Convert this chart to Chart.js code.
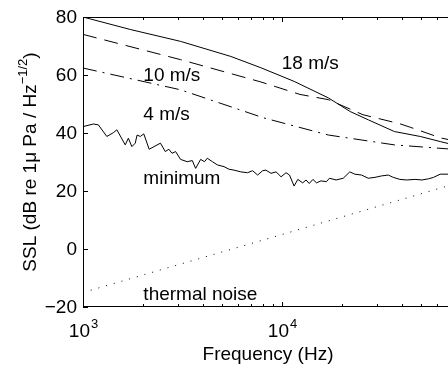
<!DOCTYPE html>
<html>
<head>
<meta charset="utf-8">
<script src="https://cdn.jsdelivr.net/npm/chart.js@4.4.1/dist/chart.umd.min.js"></script>
<style>
  html, body { margin: 0; padding: 0; background: #fff; }
  canvas { display: block; }
</style>
</head>
<body>
<canvas id="sslChart" width="448" height="369"></canvas>
<script>
// values: frequency (Hz) and level (dB)
const freq18 = [1000, 1727, 3090, 5530, 7830, 11500, 17100, 22000, 27200, 36700, 49500, 62700, 70000];
const ssl18 = [80, 75.7, 71.6, 66.4, 62.5, 57.8, 52.1, 47.4, 44.5, 40.5, 38.8, 37, 36.2];

const freq10 = [1000, 3090, 7830, 12300, 17100, 25500, 39000, 44000, 62700, 70000];
const ssl10 = [74, 65.3, 57.6, 53.3, 51.5, 46.3, 43.2, 42, 38.3, 37.6];

const freq4 = [1000, 3090, 8100, 17100, 36700, 68700, 70000];
const ssl4 = [62.4, 54.9, 45.2, 39.3, 35.9, 34.5, 34.4];

const freqMin = [1000, 1127, 1195, 1317, 1420, 1480, 1630, 1690, 1760, 1830, 1870, 1940, 2020, 2150, 2450, 2590,
  2700, 2800, 2920, 3090, 3340, 3540, 3680, 3900, 4080, 4210, 4470, 4730, 5110, 5420, 5740, 6210, 6710, 7110,
  7540, 7990, 8300, 8800, 9330, 9890, 10480, 10900, 11500, 12000, 12700, 13200, 13700, 14300, 14900, 15700,
  16700, 17300, 18700, 20300, 21900, 23200, 25100, 27100, 29300, 31600, 34200, 36200, 39100, 42300, 46600,
  50400, 54400, 57700, 62300, 70000];
const sslMin = [42.2, 43.1, 42.8, 38.8, 40.1, 41.1, 35.9, 38.2, 35.3, 36.5, 39.3, 38.8, 39.7, 34.4, 36.5, 33.6,
  34.4, 33.0, 33.6, 30.9, 30.1, 30.5, 27.8, 30.9, 30.1, 31.3, 30.1, 29.0, 28.4, 27.5, 27.2, 26.6, 26.3, 27.0,
  25.5, 27.0, 27.2, 26.1, 26.6, 24.9, 26.3, 25.5, 21.7, 24.0, 22.8, 23.8, 22.6, 24.0, 22.8, 23.5,
  23.2, 24.4, 23.8, 24.4, 26.6, 25.8, 25.5, 24.4, 24.7, 25.2, 25.5, 24.7, 24.0, 23.8, 24.0,
  23.8, 24.2, 24.7, 25.8, 25.8];

const freqThermal = [1000, 10000, 70000];
const sslThermal = [-15, 5, 22];

const yTicks = [-20, 0, 20, 40, 60, 80];
const xMajor = [1000, 10000];
const xMajorExp = ['3', '4'];
const xMinor = [2000, 3000, 4000, 5000, 6000, 7000, 8000, 9000, 20000, 30000, 40000, 50000, 60000];

const labelTexts = ['18 m/s', '10 m/s', '4 m/s', 'minimum', 'thermal noise'];
const labelFreqs = [9970, 2010, 2010, 2010, 2010];
const labelLevels = [62.1, 57.8, 44.5, 22.4, -17.5];

function pts(xs, ys) {
  return xs.map((f, i) => ({ x: f, y: ys[i] }));
}

const FONT = "'Liberation Sans', Arial, Helvetica, sans-serif";

const frameAndText = {
  id: 'frameAndText',
  afterDatasetsDraw(chart) {
    const { ctx, chartArea: a, scales: { x, y } } = chart;
    ctx.save();
    ctx.strokeStyle = '#000';
    ctx.fillStyle = '#000';
    ctx.lineWidth = 1;

    // box, right side runs off the picture
    ctx.beginPath();
    ctx.moveTo(a.right, a.top + 0.5);
    ctx.lineTo(a.left + 0.5, a.top + 0.5);
    ctx.lineTo(a.left + 0.5, a.bottom - 0.5);
    ctx.lineTo(a.right, a.bottom - 0.5);
    ctx.stroke();

    // inward ticks
    ctx.beginPath();
    yTicks.forEach(v => {
      const py = Math.round(y.getPixelForValue(v)) + 0.5;
      ctx.moveTo(a.left, py);
      ctx.lineTo(a.left + 5, py);
    });
    xMajor.forEach(v => {
      const px = Math.round(x.getPixelForValue(v)) + 0.5;
      ctx.moveTo(px, a.bottom); ctx.lineTo(px, a.bottom - 5);
      ctx.moveTo(px, a.top); ctx.lineTo(px, a.top + 5);
    });
    xMinor.forEach(v => {
      const px = Math.round(x.getPixelForValue(v)) + 0.5;
      ctx.moveTo(px, a.bottom); ctx.lineTo(px, a.bottom - 3);
      ctx.moveTo(px, a.top); ctx.lineTo(px, a.top + 3);
    });
    ctx.stroke();

    // y tick labels
    ctx.font = '19px ' + FONT;
    ctx.textAlign = 'right';
    ctx.textBaseline = 'middle';
    yTicks.forEach(v => {
      const txt = v < 0 ? '\u2212' + Math.abs(v) : String(v);
      ctx.fillText(txt, a.left - 6, y.getPixelForValue(v) + 1);
    });

    // x tick labels 10^n
    ctx.textAlign = 'left';
    ctx.textBaseline = 'alphabetic';
    xMajor.forEach((v, i) => {
      ctx.font = '19px ' + FONT;
      const wBase = ctx.measureText('10').width;
      ctx.font = '13px ' + FONT;
      const wExp = ctx.measureText(xMajorExp[i]).width;
      const x0 = x.getPixelForValue(v) - (wBase + wExp) / 2;
      ctx.font = '19px ' + FONT;
      ctx.fillText('10', x0, a.bottom + 30);
      ctx.font = '13px ' + FONT;
      ctx.fillText(xMajorExp[i], x0 + wBase + 1, a.bottom + 21);
    });

    // x title
    ctx.font = '19px ' + FONT;
    ctx.textAlign = 'center';
    ctx.fillText('Frequency (Hz)', 268, 360);

    // y title with superscript, rotated
    const main = 'SSL (dB re 1\u03bc Pa / Hz';
    const sup = '\u22121/2';
    const tail = ')';
    ctx.font = '19px ' + FONT;
    const w1 = ctx.measureText(main).width;
    const w3 = ctx.measureText(tail).width;
    ctx.font = '13px ' + FONT;
    const w2 = ctx.measureText(sup).width;
    const total = w1 + w2 + w3;
    ctx.translate(36, (a.top + a.bottom) / 2);
    ctx.rotate(-Math.PI / 2);
    ctx.textAlign = 'left';
    let cx = -total / 2;
    ctx.font = '19px ' + FONT;
    ctx.fillText(main, cx, 0);
    cx += w1;
    ctx.font = '13px ' + FONT;
    ctx.fillText(sup, cx, -9);
    cx += w2;
    ctx.font = '19px ' + FONT;
    ctx.fillText(tail, cx, 0);
    ctx.setTransform(1, 0, 0, 1, 0, 0);

    // curve labels
    ctx.font = '19px ' + FONT;
    ctx.textAlign = 'left';
    ctx.textBaseline = 'alphabetic';
    labelTexts.forEach((t, i) => {
      ctx.fillText(t, x.getPixelForValue(labelFreqs[i]), y.getPixelForValue(labelLevels[i]));
    });
    ctx.restore();
  }
};

const line = (data, dash) => ({
  data: data,
  borderColor: '#000',
  borderWidth: 1,
  borderDash: dash,
  pointRadius: 0,
  tension: 0,
  fill: false
});

new Chart(document.getElementById('sslChart'), {
  type: 'line',
  data: {
    datasets: [
      line(pts(freq18, ssl18), []),
      line(pts(freq10, ssl10), [14, 8]),
      line(pts(freq4, ssl4), [14, 6, 2, 6]),
      line(pts(freqMin, sslMin), []),
      line(pts(freqThermal, sslThermal), [1, 7])
    ]
  },
  options: {
    responsive: false,
    animation: false,
    devicePixelRatio: 1,
    layout: { padding: { left: 83, top: 17, right: 0, bottom: 62 } },
    plugins: { legend: { display: false }, tooltip: { enabled: false } },
    scales: {
      x: { type: 'logarithmic', min: 1000, max: 68200, display: false },
      y: { type: 'linear', min: -20, max: 80, display: false }
    }
  },
  plugins: [frameAndText]
});
</script>
</body>
</html>
